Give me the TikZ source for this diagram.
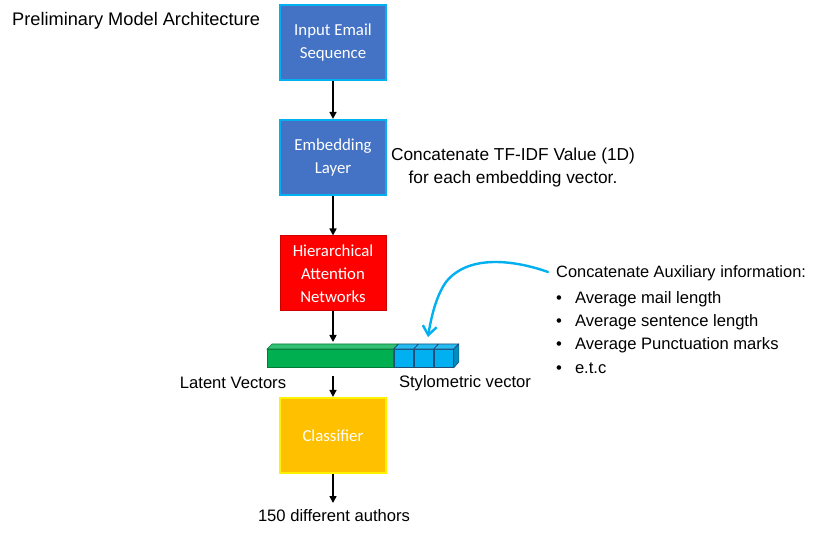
\documentclass[tikz,border=0pt]{standalone}
\usepackage{fontspec}
\setmainfont{Liberation Sans}
\newfontfamily\boxfont{Carlito}
\usetikzlibrary{arrows.meta}
\definecolor{boxblue}{HTML}{4472C4}
\definecolor{cyanb}{HTML}{00B0F0}
\definecolor{hanred}{HTML}{FF0000}
\definecolor{clsorange}{HTML}{FFC000}
\definecolor{latgreen}{HTML}{00B050}
\definecolor{cubeedge}{HTML}{1F4E79}
\tikzset{
  stagebox/.style={draw, line width=2.2pt, minimum width=106pt, minimum height=75pt,
    text=white, align=center, font=\boxfont\fontsize{16.8}{23}\selectfont, inner sep=0pt},
  flow/.style={-{Triangle[length=7pt,width=7pt]}, line width=1.6pt, black},
  lbl/.style={font=\fontsize{16.6}{23}\selectfont, inner sep=0pt, text=black},
  cube/.style={draw=cubeedge, fill=cyanb, line width=0.6pt, minimum width=19.5pt, minimum height=18pt, inner sep=0pt},
}
\begin{document}
\begin{tikzpicture}[x=1pt,y=-1pt]
\useasboundingbox (0,0) rectangle (814,537);
\node[lbl, anchor=west, font=\fontsize{18.2}{23}\selectfont] (title) at (12,21) {Preliminary Model Architecture};

\node[stagebox, fill=boxblue, draw=cyanb] (inp) at (333,42.5) {Input Email\\Sequence};
\node[stagebox, fill=boxblue, draw=cyanb] (emb) at (333,157.5) {Embedding\\Layer};
\node[stagebox, fill=hanred, draw=red!80!black, line width=1pt] (han) at (333,273.5) {Hierarchical\\Attention\\Networks};
\node[stagebox, fill=clsorange, draw=yellow] (cls) at (333,435.5) {Classifier};

% latent vector bar
\node[draw=latgreen!70!black, fill=latgreen, line width=0.6pt, minimum width=126pt, minimum height=18pt, inner sep=0pt, anchor=north west] (lat) at (267,349) {};
\fill[latgreen!80!white, draw=latgreen!70!black, line width=0.6pt] (lat.north west) -- ++(5,-5) -- ++(126,0) -- (lat.north east) -- cycle;
\node[cube, anchor=north west] (c1) at (lat.north east) {};
\node[cube, anchor=north west] (c2) at (c1.north east) {};
\node[cube, anchor=north west] (c3) at (c2.north east) {};
\foreach \c in {c1,c2,c3}{
  \fill[cyanb!85!white, draw=cubeedge, line width=0.6pt] (\c.north west) -- ++(5,-5) -- ++(19.5,0) -- (\c.north east) -- cycle;
}
\fill[cyanb!80!black, draw=cubeedge, line width=0.6pt] (c3.north east) -- ++(5,-5) -- ++(0,18) -- (c3.south east) -- cycle;
\coordinate (bartop) at (333,342);
\coordinate (barbot) at (333,376);

\node[lbl] (latl) at (233,383) {Latent Vectors};
\node[lbl] (styl) at (465,383) {Stylometric vector};

\node[lbl, align=center, font=\fontsize{17.3}{23}\selectfont] (tfidf) at (513,168) {Concatenate TF-IDF Value (1D)\\for each embedding vector.};

\node[lbl, anchor=north west, align=left, font=\fontsize{16.4}{23}\selectfont] (aux) at (556,265) {Concatenate Auxiliary information:};
\node[lbl, anchor=west] (b1) at (556,299) {\textbullet\hspace{13pt}Average mail length};
\node[lbl, anchor=west] (b2) at (556,322) {\textbullet\hspace{13pt}Average sentence length};
\node[lbl, anchor=west] (b3) at (556,345) {\textbullet\hspace{13pt}Average Punctuation marks};
\node[lbl, anchor=west] (b4) at (556,368) {\textbullet\hspace{13pt}e.t.c};

\node[lbl] (out) at (334,516) {150 different authors};

\draw[flow] (inp.south) -- (emb.north);
\draw[flow] (emb.south) -- (han.north);
\draw[flow] (han.south) -- (bartop);
\draw[flow] (barbot) -- (cls.north);
\draw[flow] (cls.south) -- (333,503);

\coordinate (auxstart) at (548,272);
\coordinate (auxtip) at (428,337);
\draw[cyanb, line width=2.4pt, line cap=round, -{Straight Barb[length=9pt,width=14pt]}]
  (auxstart) .. controls (520,262) and (470,252) .. (446,282) .. controls (436,296) and (431,318) .. (auxtip);
\end{tikzpicture}
\end{document}
